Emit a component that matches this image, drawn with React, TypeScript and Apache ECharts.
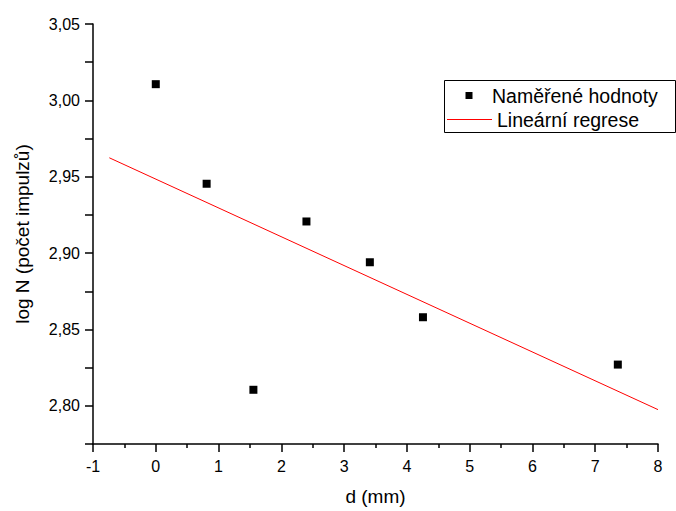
import React, { useEffect, useRef } from "react";
import * as echarts from "echarts";

const measuredX = [0, 0.81, 1.555, 2.4, 3.41, 4.256, 7.36];
const measuredY = [3.0106, 2.9454, 2.8105, 2.9207, 2.894, 2.858, 2.827];
const regressionX = [-0.74, 8];
const regressionY = [2.9624, 2.7975];
const seriesNames = ["Naměřené hodnoty", "Lineární regrese"];
const xAxisName = "d (mm)";
const yAxisName = "log N (počet impulzů)";

const FONT = "'Liberation Sans', Arial, sans-serif";

export default function App() {
  const ref = useRef<HTMLDivElement>(null);
  useEffect(() => {
    document.body.style.margin = "0";
    const chart = echarts.init(ref.current!, null, { renderer: "svg" });
    const axisLine = { show: true, onZero: false, lineStyle: { color: "#000", width: 1.5 } };
    const tickStyle = { color: "#000", width: 1.5 };
    chart.setOption({
      animation: false,
      textStyle: { fontFamily: FONT },
      grid: { left: 93, right: 18, top: 24, bottom: 66, containLabel: false },
      xAxis: {
        type: "value",
        min: -1,
        max: 8,
        interval: 1,
        name: xAxisName,
        nameLocation: "middle",
        nameGap: 43,
        nameTextStyle: { fontFamily: FONT, fontSize: 19, color: "#000" },
        axisLine,
        axisTick: { show: true, length: 8, lineStyle: tickStyle },
        minorTick: { show: true, splitNumber: 2, length: 4, lineStyle: tickStyle },
        splitLine: { show: false },
        axisLabel: { margin: 14, fontFamily: FONT, fontSize: 16, color: "#000" },
      },
      yAxis: {
        type: "value",
        min: 2.775,
        max: 3.05,
        interval: 0.025,
        name: yAxisName,
        nameLocation: "middle",
        nameGap: 61,
        nameTextStyle: { fontFamily: FONT, fontSize: 19, color: "#000" },
        axisLine,
        axisTick: { show: true, length: 8, lineStyle: tickStyle },
        splitLine: { show: false },
        axisLabel: {
          margin: 13,
          fontFamily: FONT,
          fontSize: 16,
          color: "#000",
          formatter: (v: number) => {
            const r = Math.round(v * 1000);
            if (r % 50 !== 0) return "";
            return v.toFixed(2).replace(".", ",");
          },
        },
      },
      series: [
        {
          name: seriesNames[0],
          type: "scatter",
          symbol: "rect",
          symbolSize: 8,
          itemStyle: { color: "#000", opacity: 1 },
          data: measuredX.map((x, i) => [x, measuredY[i]]),
        },
        {
          name: seriesNames[1],
          type: "line",
          symbol: "none",
          lineStyle: { color: "#ff0000", width: 1 },
          data: regressionX.map((x, i) => [x, regressionY[i]]),
        },
      ],
      graphic: [
        {
          type: "rect",
          shape: { x: 444.5, y: 80.5, width: 231, height: 52 },
          style: { fill: "#fff", stroke: "#000", lineWidth: 1 },
          z: 10,
        },
        {
          type: "rect",
          shape: { x: 465.5, y: 92, width: 7, height: 7 },
          style: { fill: "#000" },
          z: 11,
        },
        {
          type: "text",
          x: 492,
          y: 96,
          style: {
            text: seriesNames[0],
            fontFamily: FONT,
            fontSize: 19.5,
            fill: "#000",
            verticalAlign: "middle",
          },
          z: 11,
        },
        {
          type: "line",
          shape: { x1: 447, y1: 119.5, x2: 492, y2: 119.5 },
          style: { stroke: "#ff0000", lineWidth: 1 },
          z: 11,
        },
        {
          type: "text",
          x: 497,
          y: 120,
          style: {
            text: seriesNames[1],
            fontFamily: FONT,
            fontSize: 19.5,
            fill: "#000",
            verticalAlign: "middle",
          },
          z: 11,
        },
      ],
    });
    return () => chart.dispose();
  }, []);
  return <div ref={ref} style={{ width: 676, height: 511 }} />;
}
